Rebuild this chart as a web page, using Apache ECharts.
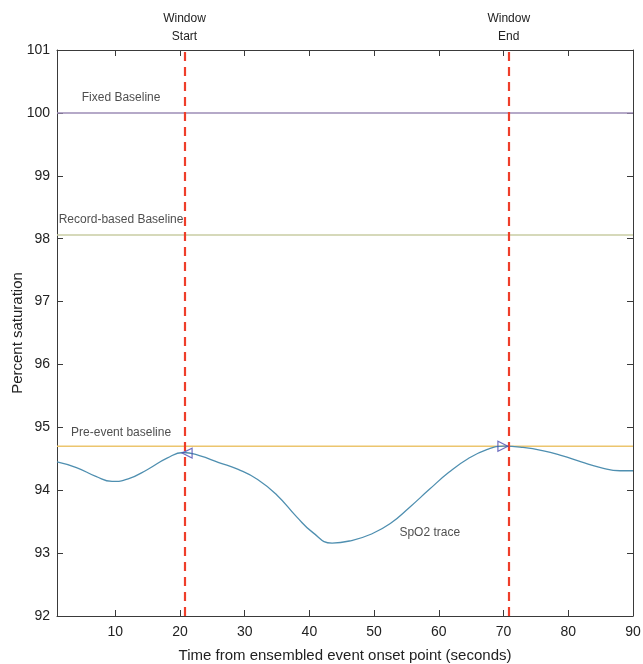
<!DOCTYPE html>
<html>
<head>
<meta charset="utf-8">
<script src="https://cdn.jsdelivr.net/npm/echarts@6/dist/echarts.min.js"></script>
<style>
html,body{margin:0;padding:0;background:#fff;}
#c{width:643px;height:664px;}
</style>
</head>
<body>
<div id="c"></div>
<script>
// ---- data ----
var traceX = [1, 4, 7, 9.5, 12, 15, 18, 20.5, 23, 26, 29, 32, 35, 38, 40.5, 43.5, 46.5, 49.5, 52.5, 55.5, 58.5, 61.5, 64.5, 67.5, 70, 73, 76, 79, 82, 85, 88, 90];
var traceY = [94.45, 94.36, 94.22, 94.14, 94.18, 94.33, 94.51, 94.60, 94.55, 94.44, 94.33, 94.17, 93.92, 93.58, 93.33, 93.16, 93.20, 93.30, 93.47, 93.73, 94.01, 94.28, 94.50, 94.65, 94.70, 94.68, 94.63, 94.55, 94.45, 94.36, 94.31, 94.31];
var xRange = [1, 90];
var fixedBaseline = 100;
var recordBaseline = 98.06;
var preEventBaseline = 94.70;
var windowStart = 20.7;
var windowEnd = 70.8;
var startMarker = [21.1, 94.59];
var endMarker = [69.9, 94.70];
var xTicks = [10, 20, 30, 40, 50, 60, 70, 80, 90];
var yTicks = [92, 93, 94, 95, 96, 97, 98, 99, 100, 101];
var textLabels = [
  {name: 'Fixed Baseline', value: [10.9, 100.24]},
  {name: 'Record-based Baseline', value: [10.9, 98.30]},
  {name: 'Pre-event baseline', value: [10.9, 94.91]},
  {name: 'SpO2 trace', value: [58.6, 93.32]}
];

var font = 'Liberation Sans, Arial, Helvetica, sans-serif';
var axisColor = '#3a3a3a';

function hline(y) { return xRange.map(function (x) { return [x, y]; }); }

var chart = echarts.init(document.getElementById('c'));
var baseX = {
  type: 'value', min: xRange[0], max: xRange[1],
  axisLine: {show: true, lineStyle: {color: axisColor, width: 1}},
  axisTick: {show: true, inside: true, length: 6, customValues: xTicks, lineStyle: {color: axisColor}},
  splitLine: {show: false}
};
var baseY = {
  type: 'value', min: 92, max: 101, interval: 1,
  axisLine: {show: true, lineStyle: {color: axisColor, width: 1}},
  axisTick: {show: true, inside: true, length: 6, lineStyle: {color: axisColor}},
  splitLine: {show: false}
};

chart.setOption({
  animation: false,
  backgroundColor: '#fff',
  textStyle: {fontFamily: font},
  grid: {left: 57, right: 10, top: 50, bottom: 48, containLabel: false, outerBoundsMode: 'none'},
  xAxis: [
    Object.assign({}, baseX, {
      position: 'bottom',
      name: 'Time from ensembled event onset point (seconds)',
      nameLocation: 'middle', nameGap: 32, nameMoveOverlap: false,
      nameTextStyle: {fontSize: 15, color: '#222', fontFamily: font},
      axisLabel: {show: true, customValues: xTicks, fontSize: 14, color: '#222', margin: 9, fontFamily: font}
    }),
    Object.assign({}, baseX, {position: 'top', axisLabel: {show: false}})
  ],
  yAxis: [
    Object.assign({}, baseY, {
      position: 'left',
      name: 'Percent saturation',
      nameLocation: 'middle', nameGap: 32, nameMoveOverlap: false,
      nameTextStyle: {fontSize: 15, color: '#222', fontFamily: font},
      axisLabel: {show: true, fontSize: 14, color: '#222', margin: 7, fontFamily: font}
    }),
    Object.assign({}, baseY, {position: 'right', axisLabel: {show: false}})
  ],
  series: [
    {
      type: 'line', data: hline(fixedBaseline), symbol: 'none',
      lineStyle: {color: '#9d8cb6', width: 1.5}, silent: true
    },
    {
      type: 'line', data: hline(recordBaseline), symbol: 'none',
      lineStyle: {color: '#c9cda3', width: 1.5}, silent: true
    },
    {
      type: 'line', data: hline(preEventBaseline), symbol: 'none',
      lineStyle: {color: '#ecc56e', width: 1.5}, silent: true
    },
    {
      type: 'line', symbol: 'none', smooth: 0.5,
      data: traceX.map(function (x, i) { return [x, traceY[i]]; }),
      lineStyle: {color: '#4f8fb0', width: 1.3},
      markLine: {
        silent: true, symbol: 'none', animation: false,
        lineStyle: {color: '#ee3e2a', type: [9, 6], width: 2.2},
        label: {
          show: true, position: 'end', distance: 4,
          fontSize: 12, color: '#222', fontFamily: font, lineHeight: 18
        },
        data: [
          {xAxis: windowStart, label: {formatter: 'Window\nStart'}},
          {xAxis: windowEnd, label: {formatter: 'Window\nEnd'}}
        ]
      }
    },
    {
      type: 'scatter', symbol: 'triangle', symbolSize: [10, 10],
      data: [
        {value: startMarker, symbolRotate: 90},
        {value: endMarker, symbolRotate: -90}
      ],
      itemStyle: {color: 'rgba(0,0,0,0)', borderColor: '#4b4bb0', borderWidth: 1.2},
      z: 5
    },
    {
      type: 'scatter', symbolSize: 0, clip: false,
      data: textLabels,
      label: {
        show: true, position: 'inside', formatter: '{b}',
        fontSize: 12, color: '#222', fontFamily: font
      },
      z: 6
    }
  ]
});
</script>
</body>
</html>
